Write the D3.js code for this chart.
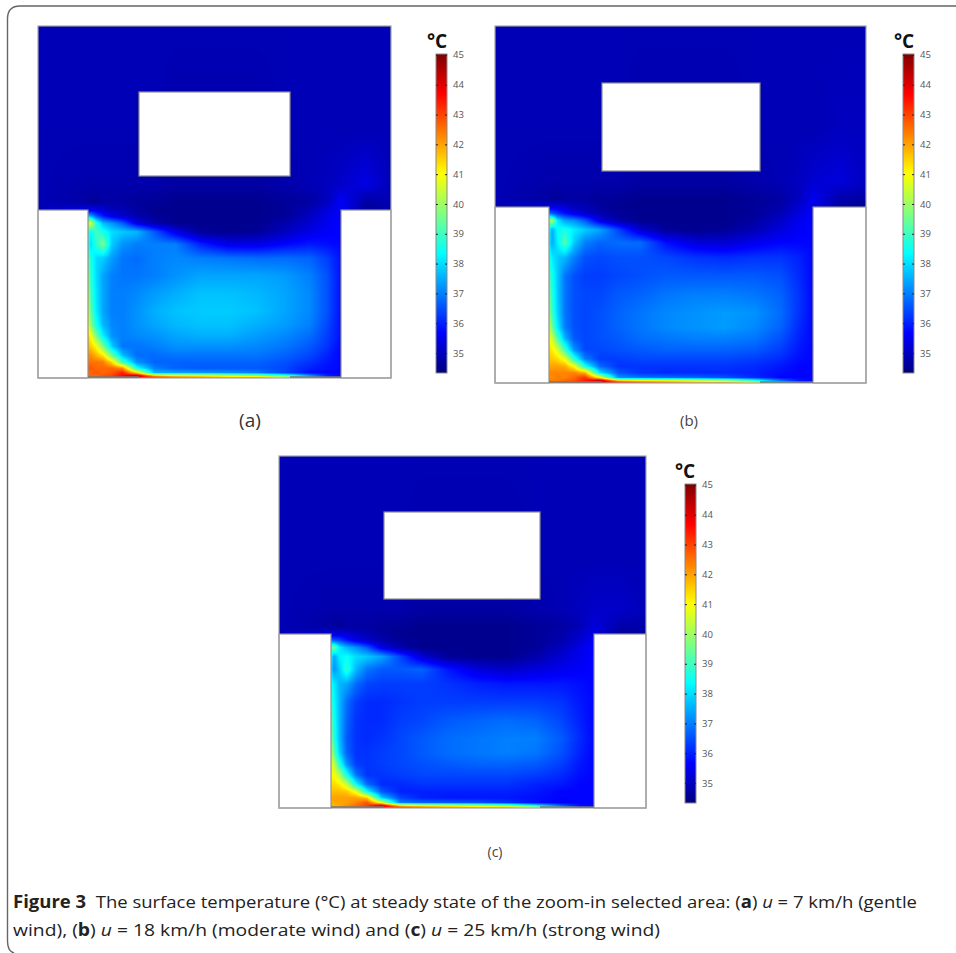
<!DOCTYPE html>
<html>
<head>
<meta charset="utf-8">
<script src="https://d3js.org/d3.v7.min.js"></script>
<style>
  html, body { margin: 0; padding: 0; background: #fff; }
  svg { display: block; }
</style>
</head>
<body>
<script>
// Grid nodes of the temperature field, in percent of the domain width and height
const xNodes = [0, 14.2, 15, 16.5, 18.5, 21, 24, 28, 33, 39, 46, 54, 62, 70, 77, 82, 85.8, 93, 100];
const yNodes = [0, 30, 45, 50, 52.3, 54, 56, 58.5, 62, 66, 71, 76, 81, 85, 88, 91, 93.5, 95.5, 97.2, 98.5, 99.3, 100];

// Colour bar
const tempTicks = [35, 36, 37, 38, 39, 40, 41, 42, 43, 44, 45];
const tempRange = [34.33, 45.03];
const jetColors = ['#00007f', '#0000ff', '#00ffff', '#ffff00', '#ff0000', '#7f0000'];
const jetStops = [0, 0.125, 0.375, 0.625, 0.875, 1];

// Temperatures above the street (all xNodes), one block per wind speed
const upperA = [
  [34.9,34.9,34.9,34.9,34.9,34.9,34.9,34.9,34.9,34.9,34.9,34.9,34.9,34.9,34.9,34.9,34.9,34.9,34.9],
  [34.9,34.9,34.9,34.9,34.9,34.9,34.9,34.9,34.9,34.8,34.8,34.8,34.8,34.9,34.9,34.9,34.9,34.9,34.9],
  [34.9,34.8,34.8,34.8,34.8,34.8,34.8,34.8,34.8,34.7,34.7,34.7,34.7,34.8,34.9,35.0,35.1,35.4,34.9],
  [34.9,34.7,34.6,34.6,34.7,34.7,34.7,34.6,34.6,34.5,34.5,34.5,34.5,34.6,34.7,35.0,35.6,34.7,34.9],
  [34.9,35.4,35.5,35.4,35.2,35.0,34.9,34.7,34.5,34.5,34.5,34.5,34.5,34.6,34.9,35.3,35.6,34.6,34.8]
];
const upperB = [
  [34.9,34.9,34.9,34.9,34.9,34.9,34.9,34.9,34.9,34.9,34.9,34.9,34.9,34.9,34.9,34.9,34.9,34.9,34.9],
  [34.9,34.9,34.9,34.9,34.9,34.9,34.9,34.9,34.9,34.8,34.8,34.8,34.8,34.9,34.9,34.9,34.9,35.0,35.0],
  [34.9,34.8,34.8,34.8,34.8,34.8,34.8,34.8,34.8,34.7,34.7,34.7,34.7,34.8,34.9,35.0,35.2,35.3,35.0],
  [34.9,34.7,34.6,34.6,34.7,34.7,34.7,34.6,34.6,34.5,34.5,34.5,34.5,34.6,34.7,35.0,35.5,34.8,34.7],
  [34.9,35.3,35.4,35.4,35.2,35.0,34.9,34.7,34.5,34.5,34.5,34.5,34.5,34.6,34.8,35.2,35.5,34.7,34.6]
];
const upperC = [
  [34.9,34.9,34.9,34.9,34.9,34.9,34.9,34.9,34.9,34.9,34.9,34.9,34.9,34.9,34.9,34.9,34.9,34.9,34.9],
  [34.9,34.9,34.9,34.9,34.9,34.9,34.9,34.9,34.9,34.8,34.8,34.8,34.8,34.9,34.9,34.9,34.9,34.9,34.9],
  [34.9,34.8,34.8,34.8,34.8,34.8,34.8,34.8,34.8,34.7,34.7,34.7,34.7,34.8,34.9,35.0,35.1,35.1,34.9],
  [34.9,34.7,34.6,34.6,34.7,34.7,34.7,34.6,34.6,34.5,34.5,34.5,34.5,34.6,34.7,34.9,35.3,34.8,34.8],
  [34.9,35.2,35.3,35.3,35.2,35.0,34.9,34.7,34.5,34.5,34.5,34.5,34.5,34.6,34.8,35.1,35.4,34.6,34.7]
];

// Temperatures inside the street (xNodes 14.2 to 85.8, yNodes 54 to 100)
const streetA = [
  [37.6,37.4,36.6,35.9,35.4,35.1,34.8,34.6,34.5,34.5,34.5,34.5,34.6,35.0,35.4,35.7],
  [40.4,40.8,38.8,37.6,37.2,36.6,35.4,34.8,34.5,34.5,34.5,34.5,34.8,35.2,35.5,35.7],
  [39.0,38.4,39.0,38.6,38.0,37.8,37.6,36.6,35.4,34.6,34.5,34.6,35.0,35.4,35.6,35.7],
  [38.8,38.0,38.8,39.6,37.8,37.2,37.0,37.0,37.0,36.0,35.4,35.4,35.7,35.9,35.8,35.7],
  [39.4,38.6,38.0,37.8,37.3,36.9,36.8,37.0,37.1,37.0,36.9,36.8,36.8,36.7,36.3,35.8],
  [39.8,38.8,38.0,37.4,37.0,36.9,36.9,37.0,37.2,37.4,37.4,37.4,37.3,37.0,36.5,35.8],
  [40.2,39.0,38.1,37.4,37.0,37.0,37.1,37.3,37.5,37.7,37.7,37.6,37.4,37.1,36.5,35.8],
  [40.6,39.3,38.2,37.4,37.0,37.0,37.2,37.5,37.7,37.8,37.8,37.7,37.4,37.1,36.5,35.8],
  [41.0,39.8,38.6,37.6,37.1,37.0,37.2,37.4,37.6,37.7,37.7,37.5,37.3,37.0,36.4,35.8],
  [41.4,41.0,39.6,38.2,37.2,37.0,37.1,37.2,37.4,37.5,37.5,37.3,37.1,36.8,36.3,35.8],
  [41.8,41.5,41.0,39.6,37.8,36.9,36.9,37.0,37.2,37.2,37.2,37.1,36.9,36.6,36.2,35.7],
  [42.2,42.2,41.8,41.2,39.4,37.6,36.8,36.8,36.9,36.9,36.9,36.9,36.7,36.4,36.0,35.7],
  [42.5,42.5,42.5,42.4,41.4,39.0,37.2,36.7,36.7,36.7,36.7,36.7,36.5,36.2,35.9,35.7],
  [42.8,42.8,42.6,42.6,42.6,42.2,38.5,37.0,36.7,36.6,36.6,36.6,36.4,36.0,35.8,35.7],
  [42.6,42.6,42.8,42.6,42.8,43.4,41.5,37.6,37.4,37.3,37.2,37.0,36.4,35.8,35.7,35.7],
  [42.6,42.6,42.6,42.8,43.0,43.6,44.2,41.5,41.0,40.8,40.4,40.0,39.0,37.2,36.0,35.7],
  [42.6,42.5,42.6,42.8,43.0,43.4,44.2,44.0,43.2,42.8,42.3,42.5,41.0,38.5,36.0,35.7]
];
const streetB = [
  [36.8,36.6,36.2,35.8,35.4,35.1,34.8,34.6,34.5,34.5,34.5,34.5,34.6,34.9,35.3,35.7],
  [39.8,40.2,38.2,37.4,37.2,36.6,35.4,34.8,34.5,34.5,34.5,34.5,34.7,35.1,35.5,35.7],
  [38.6,37.4,38.4,38.6,38.2,37.8,37.4,36.4,35.2,34.6,34.5,34.6,34.9,35.3,35.6,35.7],
  [38.4,37.4,38.2,39.2,37.8,37.0,36.7,36.8,36.8,35.8,35.3,35.2,35.5,35.7,35.7,35.7],
  [38.8,38.2,37.8,37.6,37.0,36.5,36.4,36.5,36.5,36.4,36.2,36.1,36.2,36.2,36.0,35.7],
  [39.2,38.6,37.8,36.9,36.5,36.3,36.3,36.4,36.5,36.6,36.6,36.6,36.6,36.5,36.1,35.7],
  [39.6,38.8,37.8,36.9,36.5,36.4,36.4,36.6,36.7,36.9,37.0,37.0,36.9,36.7,36.2,35.7],
  [40.0,39.0,37.9,36.9,36.5,36.4,36.5,36.7,36.9,37.1,37.2,37.3,37.2,36.8,36.2,35.7],
  [40.6,39.6,38.2,37.0,36.5,36.4,36.5,36.7,36.9,37.1,37.2,37.3,37.1,36.7,36.1,35.7],
  [41.0,40.6,39.2,37.6,36.6,36.4,36.5,36.6,36.8,36.9,37.0,37.0,36.9,36.5,36.0,35.7],
  [41.3,41.2,40.6,39.0,37.2,36.4,36.4,36.5,36.6,36.7,36.7,36.7,36.6,36.3,35.9,35.7],
  [41.6,41.6,41.4,40.8,38.8,37.0,36.3,36.3,36.4,36.4,36.4,36.4,36.3,36.1,35.8,35.7],
  [41.9,42.0,42.0,41.9,41.0,38.6,36.8,36.2,36.2,36.2,36.2,36.2,36.1,35.9,35.7,35.7],
  [42.2,42.3,42.3,42.3,42.3,41.8,38.0,36.6,36.2,36.1,36.1,36.1,36.0,35.8,35.7,35.7],
  [42.2,42.2,42.4,42.3,42.6,43.2,41.0,37.2,36.9,36.8,36.7,36.5,36.1,35.7,35.7,35.7],
  [42.4,42.4,42.4,42.6,42.8,43.4,44.2,41.4,41.0,40.8,40.4,39.8,38.6,36.8,35.9,35.7],
  [42.4,42.4,42.5,42.6,42.8,43.2,44.2,44.0,43.4,42.8,42.3,42.4,41.0,38.5,36.0,35.7]
];
const streetC = [
  [36.8,36.6,36.4,35.9,35.4,35.1,34.8,34.6,34.5,34.5,34.5,34.5,34.6,34.8,35.2,35.6],
  [39.4,39.6,38.2,37.6,37.2,36.6,35.4,34.8,34.5,34.5,34.5,34.5,34.6,35.0,35.4,35.7],
  [38.4,37.4,38.2,38.4,38.0,37.8,37.4,36.4,35.2,34.6,34.5,34.5,34.8,35.2,35.5,35.7],
  [38.0,37.2,37.8,38.8,37.6,36.9,36.6,36.6,36.7,35.9,35.3,35.1,35.3,35.5,35.6,35.7],
  [38.6,38.2,37.6,37.4,36.8,36.4,36.3,36.3,36.3,36.2,36.0,35.9,35.9,35.9,35.8,35.7],
  [39.0,38.4,37.6,36.8,36.3,36.1,36.1,36.2,36.3,36.3,36.3,36.3,36.3,36.2,35.9,35.7],
  [39.4,38.6,37.6,36.7,36.2,36.1,36.1,36.3,36.4,36.6,36.7,36.8,36.7,36.4,36.0,35.7],
  [39.8,38.8,37.6,36.6,36.2,36.1,36.2,36.4,36.6,36.8,36.9,37.0,37.0,36.6,36.1,35.7],
  [40.4,39.4,37.9,36.7,36.2,36.2,36.3,36.4,36.6,36.8,36.9,37.0,36.9,36.5,36.0,35.7],
  [40.8,40.4,38.8,37.2,36.3,36.2,36.3,36.4,36.5,36.6,36.7,36.7,36.6,36.3,35.9,35.7],
  [41.0,41.0,40.2,38.6,36.9,36.2,36.2,36.3,36.4,36.4,36.4,36.4,36.3,36.1,35.8,35.7],
  [41.3,41.4,41.2,40.4,38.4,36.8,36.1,36.1,36.2,36.2,36.2,36.2,36.0,35.9,35.7,35.7],
  [41.6,41.7,41.7,41.6,40.8,38.4,36.6,36.0,36.0,36.0,36.0,36.0,35.9,35.7,35.7,35.7],
  [41.9,42.0,42.0,42.0,42.0,41.6,37.8,36.4,36.0,35.9,35.9,35.9,35.8,35.7,35.7,35.7],
  [41.8,41.9,42.0,42.0,42.3,42.8,40.8,37.0,36.7,36.6,36.5,36.2,35.8,35.6,35.7,35.7],
  [41.8,41.8,41.9,42.2,42.5,43.0,44.0,41.2,40.8,40.6,40.2,39.6,38.2,36.6,35.8,35.7],
  [41.8,41.8,42.0,42.2,42.4,43.0,44.0,43.8,43.2,42.6,42.2,42.3,41.0,38.5,36.0,35.7]
];

const WIDTH = 956;
const HEIGHT = 953;

// Pixel layout of each panel
const panels = [
  { upper: upperA, street: streetA, left: 38, right: 391, top: 26, bottom: 378, streetLeft: 88, streetRight: 341, streetTop: 210,
    win: [139, 290, 92, 176], bar: [436, 54, 373], unitX: 437, unitY: 48 },
  { upper: upperB, street: streetB, left: 495, right: 866, top: 26, bottom: 383, streetLeft: 549, streetRight: 813, streetTop: 207,
    win: [602, 760, 83, 171], bar: [903, 54, 373], unitX: 904, unitY: 48 },
  { upper: upperC, street: streetC, left: 279, right: 646, top: 456, bottom: 808, streetLeft: 331, streetRight: 594, streetTop: 634,
    win: [384, 540, 512, 599], bar: [685, 484, 803], unitX: 685, unitY: 478 }
];

const svg = d3.select('body').append('svg').attr('width', WIDTH).attr('height', HEIGHT);
const FONT = '"Open Sans", sans-serif';

const tempColor = d3.scaleLinear()
  .domain(jetStops.map(t => tempRange[0] + t * (tempRange[1] - tempRange[0])))
  .range(jetColors);

// Rounded frame of the figure
svg.append('path')
  .attr('d', 'M956,6 H20 Q7.5,6 7.5,19 V941 Q7.5,951 14,953')
  .attr('fill', 'none')
  .attr('stroke', '#666')
  .attr('stroke-width', 1.4);

// Paints one bilinear field into a canvas and returns it as a data url
function fieldImage(panel, xScale, yScale) {
  const w = panel.right - panel.left;
  const h = panel.bottom - panel.top;
  const canvas = document.createElement('canvas');
  canvas.width = w;
  canvas.height = h;
  const ctx = canvas.getContext('2d');
  const img = ctx.createImageData(w, h);

  // Street rows only hold the street columns, the covered columns repeat the wall value
  const rows = panel.upper.concat(panel.street.map(r => [r[0]].concat(r, [r[15], r[15]])));
  const xIndex = d3.scaleLinear().domain(xNodes.map(xScale)).range(d3.range(xNodes.length)).clamp(true);
  const yIndex = d3.scaleLinear().domain(yNodes.map(yScale)).range(d3.range(yNodes.length)).clamp(true);

  for (let py = 0; py < h; py++) {
    const fy = yIndex(panel.top + py + 0.5);
    const j = Math.min(Math.floor(fy), yNodes.length - 2);
    for (let px = 0; px < w; px++) {
      const fx = xIndex(panel.left + px + 0.5);
      const i = Math.min(Math.floor(fx), xNodes.length - 2);
      const a = rows[j][i] + (rows[j][i + 1] - rows[j][i]) * (fx - i);
      const b = rows[j + 1][i] + (rows[j + 1][i + 1] - rows[j + 1][i]) * (fx - i);
      const c = d3.rgb(tempColor(a + (b - a) * (fy - j)));
      const k = 4 * (py * w + px);
      img.data[k] = c.r;
      img.data[k + 1] = c.g;
      img.data[k + 2] = c.b;
      img.data[k + 3] = 255;
    }
  }
  ctx.putImageData(img, 0, 0);
  return canvas.toDataURL();
}

panels.forEach((panel, idx) => {
  const g = svg.append('g');
  const xScale = d3.scaleLinear().domain([0, 14.2, 85.8, 100]).range([panel.left, panel.streetLeft, panel.streetRight, panel.right]);
  const yScale = d3.scaleLinear().domain([0, 52.3, 100]).range([panel.top, panel.streetTop, panel.bottom]);

  g.append('image')
    .attr('x', panel.left)
    .attr('y', panel.top)
    .attr('width', panel.right - panel.left)
    .attr('height', panel.bottom - panel.top)
    .attr('href', fieldImage(panel, xScale, yScale));

  // White building and the two side blocks
  const blocks = [
    [panel.win[0], panel.win[2], panel.win[1] - panel.win[0], panel.win[3] - panel.win[2]],
    [panel.left, panel.streetTop, panel.streetLeft - panel.left, panel.bottom - panel.streetTop],
    [panel.streetRight, panel.streetTop, panel.right - panel.streetRight, panel.bottom - panel.streetTop]
  ];
  g.selectAll('rect.block')
    .data(blocks)
    .enter()
    .append('rect')
      .attr('class', 'block')
      .attr('x', d => d[0])
      .attr('y', d => d[1])
      .attr('width', d => d[2])
      .attr('height', d => d[3])
      .attr('fill', '#fff')
      .attr('stroke', '#8f8f8f')
      .attr('stroke-width', 1.2);

  // Outline
  g.append('rect')
    .attr('x', panel.left)
    .attr('y', panel.top)
    .attr('width', panel.right - panel.left)
    .attr('height', panel.bottom - panel.top)
    .attr('fill', 'none')
    .attr('stroke', '#a5a5a5')
    .attr('stroke-width', 1.2);

  // Dark pavement pieces at the foot of the street
  g.selectAll('line.wall')
    .data([[panel.streetLeft, panel.win[0]], [panel.win[1], panel.streetRight]])
    .enter()
    .append('line')
      .attr('class', 'wall')
      .attr('x1', d => d[0])
      .attr('x2', d => d[1])
      .attr('y1', panel.bottom - 1)
      .attr('y2', panel.bottom - 1)
      .attr('stroke', '#777')
      .attr('stroke-width', 1.4);

  // Colour bar
  const barX = panel.bar[0];
  const BAR_WIDTH = 11;
  const barY = d3.scaleLinear().domain(tempRange).range([panel.bar[2], panel.bar[1]]);
  const gradId = 'jet' + idx;
  const grad = svg.append('defs').append('linearGradient')
    .attr('id', gradId).attr('x1', 0).attr('x2', 0).attr('y1', 1).attr('y2', 0);
  grad.selectAll('stop')
    .data(jetStops)
    .enter()
    .append('stop')
      .attr('offset', d => d)
      .attr('stop-color', (d, i) => jetColors[i]);

  g.append('rect')
    .attr('x', barX)
    .attr('y', panel.bar[1])
    .attr('width', BAR_WIDTH)
    .attr('height', panel.bar[2] - panel.bar[1])
    .attr('fill', 'url(#' + gradId + ')')
    .attr('stroke', '#8a8a8a')
    .attr('stroke-width', 1);

  const axis = g.append('g')
    .attr('transform', 'translate(' + (barX + BAR_WIDTH) + ',0)')
    .call(d3.axisRight(barY).tickValues(tempTicks).tickSizeInner(-2).tickSizeOuter(0).tickPadding(6).tickFormat(d3.format('d')));
  axis.select('.domain').remove();
  axis.selectAll('line').attr('stroke', '#222');
  axis.selectAll('text').attr('fill', '#555').attr('font-family', FONT).attr('font-size', 9.5);

  const axisL = g.append('g')
    .attr('transform', 'translate(' + barX + ',0)')
    .call(d3.axisLeft(barY).tickValues(tempTicks).tickSizeInner(-2).tickSizeOuter(0).tickFormat(''));
  axisL.select('.domain').remove();
  axisL.selectAll('line').attr('stroke', '#222');

  g.append('text')
    .attr('x', panel.unitX)
    .attr('y', panel.unitY)
    .attr('text-anchor', 'middle')
    .attr('font-family', FONT)
    .attr('font-weight', 700)
    .attr('font-size', 19)
    .attr('fill', '#111')
    .text('°C');
});

// Panel letters
const panelLabels = [
  { text: '(a)', x: 250, y: 427, size: 19, color: '#333' },
  { text: '(b)', x: 689, y: 426, size: 15, color: '#444' },
  { text: '(c)', x: 495, y: 857, size: 14, color: '#444' }
];
svg.selectAll('text.panel-label')
  .data(panelLabels)
  .enter()
  .append('text')
    .attr('class', 'panel-label')
    .attr('x', d => d.x)
    .attr('y', d => d.y)
    .attr('text-anchor', 'middle')
    .attr('font-family', FONT)
    .attr('font-size', d => d.size)
    .attr('fill', d => d.color)
    .text(d => d.text);

// Caption, each line is a list of [text, style] runs
const captionLines = [
  { y: 908, length: 904, runs: [['Figure 3', 'b'], ['  The surface temperature (°C) at steady state of the zoom-in selected area: (', ''], ['a', 'b'], [') ', ''], ['u', 'i'], [' = 7 km/h (gentle', '']] },
  { y: 936, length: 647, runs: [['wind), (', ''], ['b', 'b'], [') ', ''], ['u', 'i'], [' = 18 km/h (moderate wind) and (', ''], ['c', 'b'], [') ', ''], ['u', 'i'], [' = 25 km/h (strong wind)', '']] }
];
captionLines.forEach(line => {
  const t = svg.append('text')
    .attr('x', 13)
    .attr('y', line.y)
    .attr('xml:space', 'preserve')
    .style('white-space', 'pre')
    .attr('font-family', FONT)
    .attr('font-size', 17)
    .attr('fill', '#222');
  line.runs.forEach(r => {
    t.append('tspan')
      .attr('font-weight', r[1] === 'b' ? 700 : 400)
      .attr('font-style', r[1] === 'i' ? 'italic' : 'normal')
      .text(r[0]);
  });
  t.attr('textLength', line.length).attr('lengthAdjust', 'spacingAndGlyphs');
});
</script>
</body>
</html>
